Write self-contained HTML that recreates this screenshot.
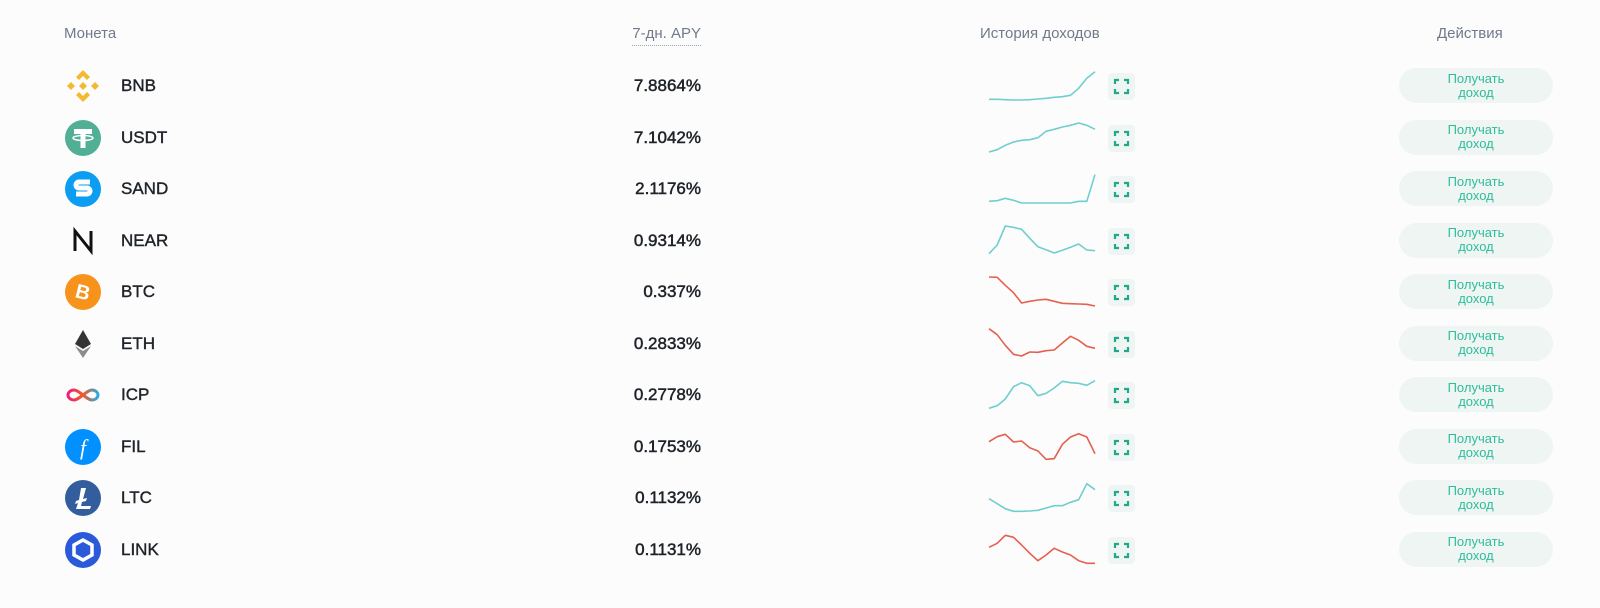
<!DOCTYPE html>
<html><head><meta charset="utf-8">
<style>
body{margin:0;width:1600px;height:608px;background:#fcfcfc;font-family:"Liberation Sans","Noto Sans CJK SC",sans-serif;overflow:hidden;position:relative}
.h{position:absolute;top:25px;font-size:15px;color:#707a8a}
.row{position:absolute;left:0;width:1600px;height:51px}
.ic{position:absolute;left:64px;width:38px;height:38px}
.nm{position:absolute;left:121px;font-size:17px;color:#1e2329;-webkit-text-stroke:0.4px #1e2329}
.apy{position:absolute;right:899px;font-size:17px;color:#1e2329;-webkit-text-stroke:0.5px #1e2329}
.ex{position:absolute;left:1108px;width:27px;height:27px;background:#eef5f3;border-radius:4px}
.btn{position:absolute;left:1399px;width:154px;height:35px;border-radius:18px;background:#eef5f3;color:#2ebd9a;font-size:13px;line-height:14px;text-align:center;display:flex;align-items:center;justify-content:center}
</style></head><body>
<div class="h" style="left:64px">Монета</div>
<div class="h" style="right:899px;border-bottom:1px dotted #9aa;padding-bottom:3px">7-дн. APY</div>
<div class="h" style="left:980px">История доходов</div>
<div class="h" style="left:1437px">Действия</div>
<div id="rows"></div>
<script>
const coins=["BNB","USDT","SAND","NEAR","BTC","ETH","ICP","FIL","LTC","LINK"];
const apy=["7.8864%","7.1042%","2.1176%","0.9314%","0.337%","0.2833%","0.2778%","0.1753%","0.1132%","0.1131%"];
const sBNB=[2,2,1,0,0,1,3,5,8,10,14,35,65,85];
const sUSDT=[0,7,20,30,35,37,43,62,68,75,80,87,80,68];
const sSAND=[5,7,14,8,0,0,0,0,0,0,0,5,5,85];
const sNEAR=[4,30,87,83,77,50,25,16,6,14,23,33,15,13];
const sBTC=[87,86,62,40,9,14,18,20,14,8,7,6,5,0];
const sETH=[88,70,38,11,6,18,17,22,24,45,65,53,35,29];
const sICP=[2,10,30,67,79,70,40,47,63,83,79,77,71,85];
const sFIL=[58,73,80,57,60,40,30,5,7,50,72,82,72,22];
const sLTC=[40,25,10,2,2,3,5,12,19,19,29,37,85,67];
const sLINK=[50,62,86,80,57,32,10,27,47,36,27,10,2,2];
const series=[sBNB,sUSDT,sSAND,sNEAR,sBTC,sETH,sICP,sFIL,sLTC,sLINK];
const icons={
BNB:'<g fill="#f3ba2f"><path d="M19 3l7 7-3 3-4-4-4 4-3-3z"/><path d="M19 35l7-7-3-3-4 4-4-4-3 3z"/><path d="M3 19l4-4 4 4-4 4z"/><path d="M27 19l4-4 4 4-4 4z"/><path d="M19 15l4 4-4 4-4-4z"/></g>',
USDT:'<circle cx="19" cy="19" r="18" fill="#50af95"/><path d="M10 10h18v5h-6.5v14h-5V15H10z" fill="#fff"/><ellipse cx="19" cy="19" rx="10" ry="2.5" fill="none" stroke="#fff" stroke-width="1.5"/>',
SAND:'<circle cx="19" cy="19" r="18" fill="#0a9df2"/><path d="M26 12H15a3 3 0 0 0 0 6h8a3 3 0 0 1 0 6H12" fill="none" stroke="#fff" stroke-width="5"/>',
NEAR:'<path d="M11 29V9l16 20V9" fill="none" stroke="#111" stroke-width="3"/>',
BTC:'<circle cx="19" cy="19" r="18" fill="#f7931a"/><text x="19" y="26" font-size="20" font-weight="bold" fill="#fff" text-anchor="middle" font-family="Liberation Sans" transform="rotate(14 19 19)">B</text>',
ETH:'<path d="M19 5l-8 14 8 5 8-5z" fill="#343434"/><path d="M19 26l-8-5 8 12 8-12z" fill="#8c8c8c"/>',
ICP:'<path d="M10 14c-4 0-6 3-6 5s2 5 6 5c5 0 13-10 18-10 4 0 6 3 6 5s-2 5-6 5c-5 0-13-10-18-10z" fill="none" stroke="url(#g)" stroke-width="3"/><defs><linearGradient id="g"><stop offset="0" stop-color="#ed1e79"/><stop offset="0.5" stop-color="#f15a24"/><stop offset="1" stop-color="#29abe2"/></linearGradient></defs>',
FIL:'<circle cx="19" cy="19" r="18" fill="#0090ff"/><text x="19" y="27" font-size="22" font-style="italic" fill="#fff" text-anchor="middle" font-family="Liberation Serif">f</text>',
LTC:'<circle cx="19" cy="19" r="18" fill="#345d9d"/><path d="M17 9h5l-3 11 4-1-1 3-4 1-1 4h10l-1 3H12l2-6-3 1 1-3 3-1z" fill="#fff"/>',
LINK:'<circle cx="19" cy="19" r="18" fill="#2a5ada"/><path d="M19 9l9 5v10l-9 5-9-5V14z" fill="none" stroke="#fff" stroke-width="3.5"/>'
};
const root=document.getElementById('rows');
const sx=i=>989+i*106/13;
const sy=(v,c)=>c+14-v/90*30;
coins.forEach((c,i)=>{
  const cy=86+i*51.5;
  const r=document.createElement('div');r.className='row';r.style.top=(cy-25)+'px';
  
  
  const d=series[i];
  const col=d[d.length-1]>=d[0]?'#6fcfcf':'#e5604f';
  const pts=d.map((v,j)=>sx(j).toFixed(1)+','+(sy(v,cy)-(cy-25)).toFixed(1)).join(' ');
  r.innerHTML=`<svg class="ic" style="top:6px" viewBox="0 0 38 38">${icons[c]}</svg>
<div class="nm" style="top:15px">${c}</div>
<div class="apy" style="top:15px">${apy[i]}</div>
<svg style="position:absolute;left:0;top:0" width="1600" height="51"><polyline points="${pts}" fill="none" stroke="${col}" stroke-width="1.6" stroke-linejoin="round"/></svg>
<div class="ex" style="top:12px"><svg width="27" height="27"><path d="M7 11V7h4M16 7h4v4M20 16v4h-4M11 20H7v-4" fill="none" stroke="#1fa88a" stroke-width="2.2"/></svg></div>
<div class="btn" style="top:7px">Получать<br>доход</div>`;
  root.appendChild(r);
});
</script>
</body></html>
